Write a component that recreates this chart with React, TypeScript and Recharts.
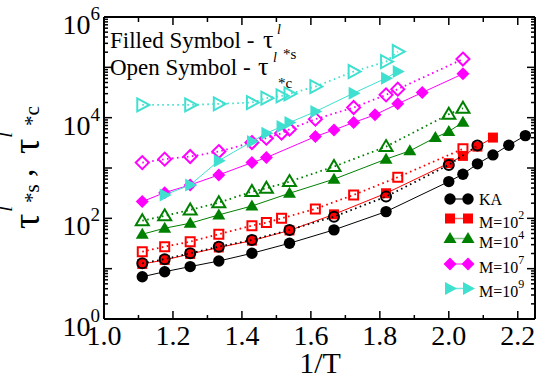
import React from 'react';
import { ScatterChart, Scatter, XAxis, YAxis } from 'recharts';

const FONT = '"Liberation Serif", "Times New Roman", serif';

// ---- data (x = 1/T, y = tau) ----
const kaFilledX = [1.111, 1.176, 1.25, 1.333, 1.429, 1.538, 1.667, 1.818, 2.0, 2.041, 2.083, 2.128, 2.174, 2.222];
const kaFilledY = [6.9, 8.7, 11, 14.2, 20.2, 32, 59, 136, 537, 753, 1210, 1820, 2840, 4400];
const kaOpenX = [1.111, 1.176, 1.25, 1.333, 1.429, 1.538, 1.667, 1.818, 2.0, 2.083];
const kaOpenY = [12.8, 15.4, 20.2, 27.4, 37.2, 58.8, 108, 270, 1150, 2790];

const m2FilledX = [1.111, 1.176, 1.25, 1.333, 1.429, 1.538, 1.667, 1.818, 2.0, 2.041, 2.083, 2.128];
const m2FilledY = [12.4, 14.9, 19.6, 26.4, 36, 57.5, 120, 315, 1245, 1740, 2660, 4020];
const m2OpenX = [1.111, 1.176, 1.25, 1.333, 1.429, 1.471, 1.515, 1.613, 1.724, 1.852, 2.041];
const m2OpenY = [21.8, 27.4, 34.4, 48.3, 71.6, 82.2, 100, 154, 292, 656, 2400];

const m4FilledX = [1.111, 1.176, 1.25, 1.333, 1.429, 1.538, 1.667, 1.818, 1.887, 1.961, 2.0, 2.041];
const m4FilledY = [48.3, 63.6, 80, 117, 176, 315, 599, 1500, 2190, 4020, 5300, 8150];
const m4OpenX = [1.111, 1.176, 1.25, 1.333, 1.429, 1.471, 1.538, 1.667, 1.818, 2.0, 2.041];
const m4OpenY = [90, 112, 147, 205, 340, 396, 537, 1067, 2660, 11700, 15400];

const m7FilledX = [1.111, 1.176, 1.25, 1.333, 1.429, 1.471, 1.613, 1.667, 1.724, 1.786, 1.852, 1.923, 2.041];
const m7FilledY = [215, 324, 461, 729, 1280, 1610, 4210, 5720, 8000, 11400, 18800, 31600, 74300];
const m7OpenX = [1.111, 1.176, 1.25, 1.333, 1.429, 1.471, 1.515, 1.538, 1.613, 1.724, 1.818, 1.852, 2.041];
const m7OpenY = [1280, 1500, 1690, 2120, 3200, 3910, 4920, 5900, 9340, 15900, 28400, 36900, 146000];

const m9FilledX = [1.176, 1.25, 1.333, 1.429, 1.471, 1.515, 1.538, 1.613, 1.724, 1.818, 1.852];
const m9FilledY = [292, 461, 1400, 3350, 4920, 6650, 8000, 13200, 30700, 61000, 82500];
const m9OpenX = [1.111, 1.25, 1.333, 1.429, 1.471, 1.515, 1.538, 1.613, 1.724, 1.818, 1.852];
const m9OpenY = [17900, 17900, 18800, 19950, 24400, 27100, 29700, 41500, 82500, 130000, 206000];

// ---- ticks / labels ----
const xTicks = [1.0, 1.1, 1.2, 1.3, 1.4, 1.5, 1.6, 1.7, 1.8, 1.9, 2.0, 2.1, 2.2];
const xTickLabels: Record<string, string> = { '1': '1.0', '1.2': '1.2', '1.4': '1.4', '1.6': '1.6', '1.8': '1.8', '2': '2.0', '2.2': '2.2' };
const yDecades = [0, 1, 2, 3, 4, 5];
const yMinorMultipliers = [1, 2, 3, 4, 5, 6, 7, 8, 9];
const yLabelledExponents = [0, 2, 4, 6];
const yTicks = [...yDecades.flatMap((d) => yMinorMultipliers.map((m) => m * Math.pow(10, d))), 1e6];

const legendNames = ['KA', 'M=10', 'M=10', 'M=10', 'M=10'];
const legendExps = ['', '2', '4', '7', '9'];
const seriesColors = ['#000000', '#ff0000', '#008000', '#ff00ff', '#40e0d0'];
const legendLineColors = ['#444444', '#ff6060', '#80c080', '#ff60ff', '#70e8dc'];
const legendMarkerKinds = ['circle', 'square', 'triUp', 'diamond', 'triRight'];

const zip = (xs: number[], ys: number[]) => xs.map((x, i) => ({ x, y: ys[i] }));

function markerPath(kind: string, cx: number, cy: number): string {
  switch (kind) {
    case 'square':
      return `M${cx - 5},${cy - 5}H${cx + 5}V${cy + 5}H${cx - 5}Z`;
    case 'triUp':
      return `M${cx},${cy - 6.5}L${cx + 6.5},${cy + 4.5}L${cx - 6.5},${cy + 4.5}Z`;
    case 'diamond':
      return `M${cx},${cy - 6.5}L${cx + 6.5},${cy}L${cx},${cy + 6.5}L${cx - 6.5},${cy}Z`;
    case 'triRight':
      return `M${cx + 7},${cy}L${cx - 5},${cy - 6.5}L${cx - 5},${cy + 6.5}Z`;
    default:
      return '';
  }
}

function Marker({ kind, cx, cy, color, open }: { kind: string; cx: number; cy: number; color: string; open: boolean }) {
  if (cx == null || cy == null) return null;
  const fill = open ? 'none' : color;
  const stroke = open ? color : 'none';
  if (kind === 'circle') {
    return <circle cx={cx} cy={cy} r={open ? 5 : 5.7} fill={fill} stroke={stroke} strokeWidth={2} />;
  }
  if (kind === 'square' && open) {
    return <path d={`M${cx - 4.5},${cy - 4.5}H${cx + 4.5}V${cy + 4.5}H${cx - 4.5}Z`} fill="none" stroke={color} strokeWidth={2} />;
  }
  return <path d={markerPath(kind, cx, cy)} fill={fill} stroke={stroke} strokeWidth={2} strokeLinejoin="miter" />;
}

const makeShape = (kind: string, color: string, open: boolean) => (p: any) => (
  <Marker kind={kind} cx={p.cx} cy={p.cy} color={color} open={open} />
);

const solidLine = (c: string) => ({ stroke: c, strokeWidth: 1 });
const dotLine = (c: string) => ({ stroke: c, strokeWidth: 1.8, strokeDasharray: '1.6 3.4' });

// ---- ticks ----
const isDecade = (v: number) => Math.abs(Math.log10(v) - Math.round(Math.log10(v))) < 1e-9;

const LeftYTick = (props: any) => {
  const { x, y, payload } = props;
  const v = payload.value;
  const dec = isDecade(v);
  const len = dec ? 8 : 4;
  const e = Math.round(Math.log10(v));
  const labelled = dec && yLabelledExponents.includes(e);
  return (
    <g>
      <line x1={x} y1={y} x2={x + len} y2={y} stroke="#000" strokeWidth={1.5} />
      {labelled && (
        <text x={x - 4} y={y + 17} textAnchor="end" fontFamily={FONT} fontSize={28} fill="#000">
          10
          <tspan dy={-14} fontSize={19}>{String(e)}</tspan>
        </text>
      )}
    </g>
  );
};

const RightYTick = (props: any) => {
  const { x, y, payload } = props;
  const len = isDecade(payload.value) ? 8 : 4;
  return <line x1={x} y1={y} x2={x - len} y2={y} stroke="#000" strokeWidth={1.5} />;
};

const tickKey = (v: number) => String(Math.round(v * 10) / 10);

const BottomXTick = (props: any) => {
  const { x, y, payload } = props;
  const label = xTickLabels[tickKey(payload.value)];
  const len = label ? 8 : 4;
  return (
    <g>
      <line x1={x} y1={y} x2={x} y2={y - len} stroke="#000" strokeWidth={1.5} />
      {label && (
        <text x={x} y={y + 26} textAnchor="middle" fontFamily={FONT} fontSize={28} fill="#000">
          {label}
        </text>
      )}
    </g>
  );
};

const TopXTick = (props: any) => {
  const { x, y, payload } = props;
  const len = xTickLabels[tickKey(payload.value)] ? 8 : 5;
  return <line x1={x} y1={y} x2={x} y2={y + len} stroke="#000" strokeWidth={1.5} />;
};

const axisLine = { stroke: '#000', strokeWidth: 2 };

export default function App() {
  const legendYs = [199, 218.5, 238.5, 264, 288.5];
  const legendTextYs = [204.5, 228, 248, 273, 297];
  return (
    <div style={{ position: 'absolute', left: 0, top: 0, width: 538, height: 376, background: '#fff' }}>
      <ScatterChart width={538} height={376} margin={{ top: 0, right: 0, bottom: 0, left: 0 }}>
        <XAxis
          xAxisId="b"
          type="number"
          dataKey="x"
          domain={[1.0, 2.25]}
          allowDataOverflow
          ticks={xTicks}
          interval={0}
          height={57}
          tickSize={0}
          tickMargin={0}
          tickLine={false}
          axisLine={axisLine}
          tick={<BottomXTick />}
        />
        <XAxis
          xAxisId="t"
          orientation="top"
          type="number"
          dataKey="x"
          domain={[1.0, 2.25]}
          allowDataOverflow
          ticks={xTicks}
          interval={0}
          height={17}
          tickSize={0}
          tickMargin={0}
          tickLine={false}
          axisLine={axisLine}
          tick={<TopXTick />}
        />
        <YAxis
          yAxisId="l"
          type="number"
          dataKey="y"
          scale="log"
          domain={[1, 1e6]}
          allowDataOverflow
          ticks={yTicks}
          interval={0}
          width={104}
          tickSize={0}
          tickMargin={0}
          tickLine={false}
          axisLine={axisLine}
          tick={<LeftYTick />}
        />
        <YAxis
          yAxisId="r"
          orientation="right"
          type="number"
          dataKey="y"
          scale="log"
          domain={[1, 1e6]}
          allowDataOverflow
          ticks={yTicks}
          interval={0}
          width={3}
          tickSize={0}
          tickMargin={0}
          tickLine={false}
          axisLine={axisLine}
          tick={<RightYTick />}
        />
        <Scatter xAxisId="b" yAxisId="l" data={zip(kaFilledX, kaFilledY)} line={solidLine('#000')} lineType="joint" shape={makeShape('circle', '#000', false)} isAnimationActive={false} />
        <Scatter xAxisId="b" yAxisId="l" data={zip(m2FilledX, m2FilledY)} line={solidLine('#ff0000')} lineType="joint" shape={makeShape('square', '#ff0000', false)} isAnimationActive={false} />
        <Scatter xAxisId="b" yAxisId="l" data={zip(kaOpenX, kaOpenY)} line={dotLine('#000')} lineType="joint" shape={makeShape('circle', '#000', true)} isAnimationActive={false} />
        <Scatter xAxisId="b" yAxisId="l" data={zip(m2OpenX, m2OpenY)} line={dotLine('#ff0000')} lineType="joint" shape={makeShape('square', '#ff0000', true)} isAnimationActive={false} />
        <Scatter xAxisId="b" yAxisId="l" data={zip(m4FilledX, m4FilledY)} line={solidLine('#008000')} lineType="joint" shape={makeShape('triUp', '#008000', false)} isAnimationActive={false} />
        <Scatter xAxisId="b" yAxisId="l" data={zip(m4OpenX, m4OpenY)} line={dotLine('#008000')} lineType="joint" shape={makeShape('triUp', '#008000', true)} isAnimationActive={false} />
        <Scatter xAxisId="b" yAxisId="l" data={zip(m7FilledX, m7FilledY)} line={solidLine('#ff00ff')} lineType="joint" shape={makeShape('diamond', '#ff00ff', false)} isAnimationActive={false} />
        <Scatter xAxisId="b" yAxisId="l" data={zip(m7OpenX, m7OpenY)} line={dotLine('#ff00ff')} lineType="joint" shape={makeShape('diamond', '#ff00ff', true)} isAnimationActive={false} />
        <Scatter xAxisId="b" yAxisId="l" data={zip(m9FilledX, m9FilledY)} line={solidLine('#40e0d0')} lineType="joint" shape={makeShape('triRight', '#40e0d0', false)} isAnimationActive={false} />
        <Scatter xAxisId="b" yAxisId="l" data={zip(m9OpenX, m9OpenY)} line={dotLine('#40e0d0')} lineType="joint" shape={makeShape('triRight', '#40e0d0', true)} isAnimationActive={false} />
      </ScatterChart>
      <svg width={538} height={376} style={{ position: 'absolute', left: 0, top: 0, pointerEvents: 'none' }}>
        {/* annotation */}
        <g fontFamily={FONT} fill="#000">
          <text x={110} y={48} fontSize={23}>Filled Symbol - </text>
          <text x={263} y={48} fontSize={26}>τ</text>
          <text x={277} y={34} fontSize={14} fontStyle="italic">l</text>
          <text x={283} y={59} fontSize={15}>*s</text>
          <text x={110} y={75} fontSize={23}>Open Symbol - </text>
          <text x={258} y={75} fontSize={26}>τ</text>
          <text x={273} y={62} fontSize={14} fontStyle="italic">l</text>
          <text x={278} y={88} fontSize={15}>*c</text>
        </g>
        {/* y axis label */}
        <g fontFamily={FONT} fill="#000">
          <text transform="translate(39,229) rotate(-90)" fontSize={38}>τ</text>
          <text transform="translate(12,212) rotate(-90)" fontSize={22} fontStyle="italic">l</text>
          <text transform="translate(39,203) rotate(-90)" fontSize={21}>*s</text>
          <text transform="translate(33,177) rotate(-90)" fontSize={34}>,</text>
          <text transform="translate(39,154) rotate(-90)" fontSize={38}>τ</text>
          <text transform="translate(12,138) rotate(-90)" fontSize={22} fontStyle="italic">l</text>
          <text transform="translate(39,126) rotate(-90)" fontSize={21}>*c</text>
        </g>
        {/* x axis label */}
        <text x={320} y={373} textAnchor="middle" fontFamily={FONT} fontSize={30} fill="#000">1/T</text>
        {/* legend */}
        {legendNames.map((name, i) => (
          <g key={i}>
            <line x1={450} y1={legendYs[i]} x2={468} y2={legendYs[i]} stroke={legendLineColors[i]} strokeWidth={1.5} />
            <Marker kind={legendMarkerKinds[i]} cx={450} cy={legendYs[i]} color={seriesColors[i]} open={false} />
            <Marker kind={legendMarkerKinds[i]} cx={468} cy={legendYs[i]} color={seriesColors[i]} open={false} />
            <text x={479} y={legendTextYs[i]} fontFamily={FONT} fontSize={16} fill="#000">
              {name}
              {legendExps[i] && <tspan dy={-9} fontSize={12}>{legendExps[i]}</tspan>}
            </text>
          </g>
        ))}
      </svg>
    </div>
  );
}
